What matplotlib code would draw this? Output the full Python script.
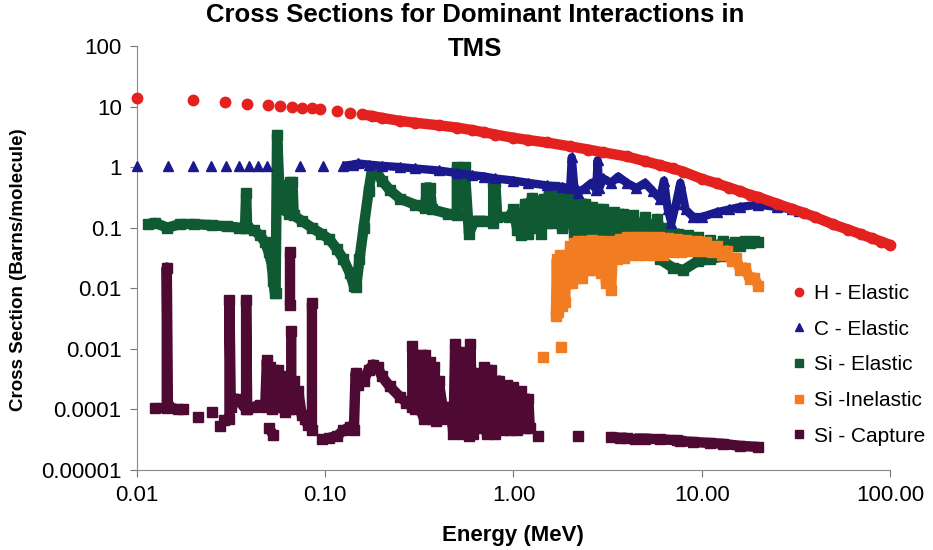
import numpy as np
import matplotlib.pyplot as plt
from matplotlib.lines import Line2D

plt.rcParams['font.family'] = ['Liberation Sans Narrow', 'Liberation Sans', 'DejaVu Sans']

nan = np.nan

# (energy MeV, cross section barns/molecule); nan breaks a segment
h_elastic = [
    (0.01, 13.8), (0.0198, 12.8), (0.0293, 11.9), (0.0384, 11.0), (0.0496, 10.6),
    (0.0575, 10.2), (0.0665, 9.8), (0.0752, 9.6), (0.085, 9.3), (0.094, 9.0),
    (0.115, 8.4), (0.135, 7.8), (0.157, 7.4), (0.177, 7.0), (0.2, 6.5),
    (0.25, 5.8), (0.3, 5.4), (0.4, 4.9), (0.5, 4.5), (0.6, 4.1), (0.7, 3.75),
    (0.8, 3.45), (1.0, 3.05), (1.2, 2.8), (1.5, 2.55), (2.0, 2.2), (2.5, 1.95),
    (3.0, 1.75), (4.0, 1.5), (5.0, 1.25), (6.0, 1.08), (7.0, 0.95), (8.0, 0.84),
    (10.0, 0.64), (12.0, 0.54), (14.0, 0.46), (16.0, 0.40), (18.0, 0.35),
    (20.0, 0.32), (25.0, 0.25), (30.0, 0.205), (35.0, 0.175), (40.0, 0.15),
    (50.0, 0.113), (60.0, 0.093), (70.0, 0.078), (80.0, 0.067), (90.0, 0.059),
    (100.0, 0.052),
]

c_elastic = [
    (0.01, 1.05), (0.0146, 1.05), (0.0198, 1.05), (0.0247, 1.05), (0.0297, 1.05),
    (0.0348, 1.05), (0.0393, 1.05), (0.044, 1.05), (0.049, 1.05), (0.0734, 1.05),
    (0.0973, 1.05), (0.124, 1.05), (0.14, 1.1), (0.15, 1.15), (0.17, 1.1),
    (0.2, 1.05), (0.25, 1.0), (0.3, 0.95), (0.4, 0.88), (0.5, 0.8), (0.6, 0.74),
    (0.7, 0.7), (0.8, 0.65), (1.0, 0.6), (1.2, 0.55), (1.5, 0.5), (1.8, 0.47),
    (2.0, 0.45), (2.04, 1.45), (2.1, 0.5), (2.2, 0.38), (2.4, 0.45), (2.6, 0.55),
    (2.75, 0.42), (2.8, 1.3), (2.85, 0.45), (3.0, 0.65), (3.3, 0.55), (3.6, 0.7),
    (4.0, 0.55), (4.5, 0.45), (5.0, 0.55), (5.5, 0.4), (6.0, 0.3), (6.3, 0.6),
    (6.6, 0.2), (6.9, 0.12), (7.3, 0.25), (7.7, 0.55), (8.2, 0.2), (9.0, 0.15),
    (10.0, 0.15), (12.0, 0.18), (14.0, 0.2), (16.0, 0.22), (20.0, 0.24),
    (25.0, 0.22), (30.0, 0.2), (33.0, 0.19),
]

si_elastic = [
    (0.0115, 0.115), (0.0125, 0.12), (0.0145, 0.1), (0.017, 0.115), (0.02, 0.115),
    (0.025, 0.11), (0.03, 0.105), (0.035, 0.1), (0.0375, 0.1), (0.038, 0.37),
    (0.0385, 0.1), (0.042, 0.09), (0.045, 0.075), (0.048, 0.057), (0.05, 0.04),
    (0.052, 0.025), (0.053, 0.013), (0.054, 0.0085), (0.0545, 0.0085),
    (0.0555, 3.4), (0.057, 0.5), (0.058, 0.3), (0.06, 0.2), (0.064, 0.17),
    (0.065, 0.56), (0.067, 0.56), (0.068, 0.16), (0.075, 0.13), (0.085, 0.1),
    (0.095, 0.08), (0.105, 0.065), (0.115, 0.045), (0.125, 0.03), (0.135, 0.018),
    (0.142, 0.011), (0.146, 0.0105), (0.152, 0.03), (0.16, 0.1), (0.17, 0.4),
    (0.178, 1.0), (0.185, 0.9), (0.2, 0.6), (0.22, 0.42), (0.25, 0.3),
    (0.3, 0.24), (0.34, 0.21), (0.345, 0.46), (0.36, 0.46), (0.37, 0.2),
    (0.45, 0.17), (0.5, 0.16), (0.5, 1.0), (0.55, 1.0), (0.58, 0.08),
    (0.62, 0.13), (0.7, 0.13), (0.78, 0.12), (0.78, 0.57), (0.8, 0.57),
    (0.82, 0.15), (0.95, 0.15), (1.0, 0.2), (1.05, 0.09), (1.1, 0.075),
    (1.15, 0.25), (1.2, 0.08), (1.25, 0.31), (1.3, 0.1), (1.35, 0.28),
    (1.4, 0.08), (1.45, 0.3), (1.5, 0.12), (1.55, 0.45), (1.6, 0.12),
    (1.65, 0.47), (1.7, 0.15), (1.75, 0.45), (1.8, 0.1), (1.85, 0.4),
    (1.9, 0.12), (2.0, 0.3), (2.1, 0.08), (2.2, 0.26), (2.3, 0.07), (2.4, 0.25),
    (2.5, 0.08), (2.6, 0.22), (2.7, 0.07), (2.8, 0.2), (2.9, 0.065), (3.0, 0.2),
    (3.2, 0.07), (3.4, 0.18), (3.6, 0.07), (3.8, 0.17), (4.0, 0.07), (4.3, 0.16),
    (4.6, 0.07), (5.0, 0.15), (5.4, 0.07), (5.8, 0.14), (6.2, 0.065), (6.6, 0.1),
    (7.0, 0.06), (7.5, 0.08), (8.0, 0.055), (8.5, 0.075), (9.0, 0.055),
    (9.5, 0.07), (10.0, 0.05), (11.0, 0.062), (12.0, 0.048), (13.0, 0.06),
    (14.0, 0.05), (15.0, 0.058), (16.0, 0.05), (17.0, 0.06), (18.0, 0.055),
    (19.0, 0.06), (20.0, 0.058),
    (nan, nan),
    (6.0, 0.03), (7.0, 0.022), (8.0, 0.02), (9.5, 0.028), (11.0, 0.03),
    (13.0, 0.034),
]

si_inelastic = [
    (1.44, 0.00072), (nan, nan), (1.79, 0.00106), (nan, nan),
    (1.68, 0.0035), (1.7, 0.03), (1.72, 0.004), (1.76, 0.035), (1.8, 0.005),
    (1.84, 0.03), (1.88, 0.006), (1.92, 0.035), (1.96, 0.012), (2.0, 0.05),
    (2.05, 0.012), (2.1, 0.055), (2.15, 0.015), (2.2, 0.06), (2.3, 0.015),
    (2.4, 0.06), (2.5, 0.02), (2.6, 0.062), (2.7, 0.02), (2.8, 0.06),
    (2.9, 0.018), (3.0, 0.06), (3.1, 0.012), (3.2, 0.055), (3.3, 0.0095),
    (3.4, 0.06), (3.55, 0.03), (3.7, 0.065), (3.85, 0.032), (4.0, 0.07),
    (4.2, 0.035), (4.4, 0.07), (4.6, 0.035), (4.8, 0.07), (5.0, 0.035),
    (5.3, 0.07), (5.6, 0.035), (5.9, 0.07), (6.2, 0.035), (6.6, 0.068),
    (7.0, 0.04), (7.4, 0.065), (7.8, 0.04), (8.3, 0.062), (8.8, 0.042),
    (9.4, 0.06), (10.0, 0.042), (10.6, 0.058), (11.3, 0.04), (12.0, 0.05),
    (12.8, 0.035), (13.6, 0.042), (14.4, 0.028), (15.2, 0.032), (16.0, 0.02),
    (17.0, 0.022), (18.0, 0.014), (19.0, 0.015), (20.0, 0.011),
]

si_capture = [
    (0.0125, 1.05e-4), (0.0144, 1.05e-4), (0.0144, 0.022), (0.0146, 1.1e-4),
    (0.0165, 1.0e-4), (nan, nan),
    (0.0176, 1.0e-4), (nan, nan), (0.021, 7.5e-5), (nan, nan),
    (0.025, 9e-5), (nan, nan), (0.0276, 5.3e-5), (nan, nan),
    (0.029, 6.6e-5), (0.031, 7e-5), (0.031, 0.0063), (0.0315, 1.1e-4),
    (0.034, 1.5e-4), (0.038, 1.0e-4), (0.038, 0.0063), (0.0385, 1.0e-4),
    (0.042, 1.1e-4), (0.045, 1.2e-4), (nan, nan),
    (0.05, 5e-5), (0.053, 3.8e-5), (nan, nan),
    (0.048, 1.1e-4), (0.049, 6.5e-4), (0.05, 1.2e-4), (0.051, 5e-4),
    (0.052, 1e-4), (0.054, 4e-4), (0.055, 1.1e-4), (0.056, 4.5e-4),
    (0.058, 1.1e-4), (0.06, 3.5e-4), (0.061, 9e-5), (0.062, 3e-4),
    (0.064, 1e-4), (0.066, 2e-4), (0.066, 0.002), (nan, nan),
    (0.065, 0.0052), (0.065, 0.039), (nan, nan),
    (0.066, 1.5e-4), (0.068, 3e-4), (0.07, 1e-4), (0.072, 2e-4),
    (0.075, 8e-5), (0.078, 7e-5), (0.081, 5.5e-5), (nan, nan),
    (0.085, 4.5e-5), (0.085, 0.0057), (nan, nan),
    (0.096, 3.2e-5), (nan, nan),
    (0.105, 3.4e-5), (0.115, 3.6e-5), (0.125, 4.5e-5), (0.135, 5.2e-5),
    (0.142, 4.5e-5), (0.145, 4e-4), (0.15, 2.5e-4), (0.16, 3e-4), (0.17, 4.5e-4),
    (0.18, 5.5e-4), (0.19, 5e-4), (0.2, 3.5e-4), (0.22, 2.4e-4), (0.25, 1.6e-4),
    (0.27, 1.3e-4), (0.29, 1.1e-4), (0.29, 0.0011), (0.3, 1e-4), (0.31, 8e-4),
    (0.32, 1e-4), (0.335, 7e-5), (0.34, 8e-4), (0.35, 8e-5), (0.36, 6e-4),
    (0.37, 7e-5), (0.38, 5e-4), (0.39, 6.5e-5), (0.4, 3e-4), (0.42, 1.1e-4),
    (0.44, 7e-5), (0.46, 1.1e-4), (0.48, 4e-5), (0.49, 1.2e-3), (0.5, 5e-5),
    (0.52, 9e-4), (0.54, 4e-5), (0.56, 6e-4), (0.58, 3.7e-5), (0.59, 1.2e-3),
    (0.61, 4e-5), (0.63, 4e-4), (0.66, 5e-5), (0.7, 5e-4), (0.72, 4e-5),
    (0.76, 4.5e-4), (0.8, 4e-5), (0.84, 3e-4), (0.88, 4.5e-5), (0.92, 2.5e-4),
    (0.96, 4.5e-5), (1.0, 2.3e-4), (1.05, 4.5e-5), (1.1, 2e-4), (1.15, 5e-5),
    (1.2, 1.5e-4), (1.22, 5e-5), (nan, nan),
    (1.35, 3.6e-5), (nan, nan), (2.2, 3.6e-5), (nan, nan),
    (3.3, 3.5e-5), (3.7, 3.4e-5), (4.0, 3.4e-5), (nan, nan),
    (4.4, 3.3e-5), (5.0, 3.3e-5), (6.0, 3.2e-5), (7.4, 3.1e-5), (nan, nan),
    (7.7, 3.0e-5), (9.0, 2.9e-5), (11.0, 2.8e-5), (13.0, 2.7e-5),
    (16.0, 2.5e-5), (20.0, 2.4e-5),
]

labels = ['H - Elastic', 'C - Elastic', 'Si - Elastic', 'Si -Inelastic', 'Si - Capture']
colors = ['#e3211f', '#1a1a8e', '#0f5a32', '#f27c22', '#4e0a33']
markers = ['o', '^', 's', 's', 's']

x_ticks = [0.01, 0.1, 1, 10, 100]
x_ticklabels = ['0.01', '0.10', '1.00', '10.00', '100.00']
y_ticks = [1e-5, 1e-4, 1e-3, 1e-2, 1e-1, 1, 10, 100]
y_ticklabels = ['0.00001', '0.0001', '0.001', '0.01', '0.1', '1', '10', '100']

fig = plt.figure(figsize=(9.33, 5.5), dpi=100)
ax = fig.add_axes([0.1468, 0.1455, 0.8071, 0.7709])
ax.set_xscale('log')
ax.set_yscale('log')


def draw(data, color, marker, ms, lw, z, line_from=0.0):
    e, s = np.array(data, dtype=float).T
    ax.plot(e, s, ls='none', marker=marker, ms=ms, color=color, mec=color,
            zorder=z, clip_on=False)
    keep = np.isnan(e) | (e >= line_from)
    ax.plot(e[keep], s[keep], ls='-', lw=lw, color=color, zorder=z,
            solid_capstyle='butt', solid_joinstyle='round', clip_on=False)


draw(si_capture, colors[4], 's', 7.5, 7.5, 2)
draw(si_elastic, colors[2], 's', 7.5, 7.5, 2)
draw(si_inelastic, colors[3], 's', 7.5, 7.5, 3)
draw(c_elastic, colors[1], '^', 6.5, 6, 4, line_from=0.12)
draw(h_elastic, colors[0], 'o', 7.5, 7.5, 5, line_from=0.15)

ax.set_xlim(0.01, 100)
ax.set_ylim(1e-5, 100)
ax.set_xticks(x_ticks)
ax.set_xticklabels(x_ticklabels)
ax.set_yticks(y_ticks)
ax.set_yticklabels(y_ticklabels)
ax.minorticks_off()
ax.tick_params(labelsize=16, length=5, color='#777777', pad=6)
for side in ['top', 'right']:
    ax.spines[side].set_visible(False)
for side in ['left', 'bottom']:
    ax.spines[side].set_color('#888888')

fig.text(0.509, 0.995, 'Cross Sections for Dominant Interactions in\nTMS',
         ha='center', va='top', fontsize=18.5, fontweight='bold', linespacing=1.55)
fig.text(0.02, 0.51, 'Cross Section (Barns/molecule)', rotation=90,
         ha='center', va='center', fontsize=13.5, fontweight='bold')
fig.text(0.55, 0.027, 'Energy (MeV)', ha='center', va='center',
         fontsize=16, fontweight='bold')

handles = [Line2D([], [], ls='none', marker=m, color=c, ms=6) for m, c in zip(markers, colors)]
fig.legend(handles, labels, loc='upper left', bbox_to_anchor=(0.83, 0.518),
           frameon=False, fontsize=15, handlelength=0.6, handletextpad=0.4,
           labelspacing=0.8)

fig.savefig('out.png', dpi=100)
